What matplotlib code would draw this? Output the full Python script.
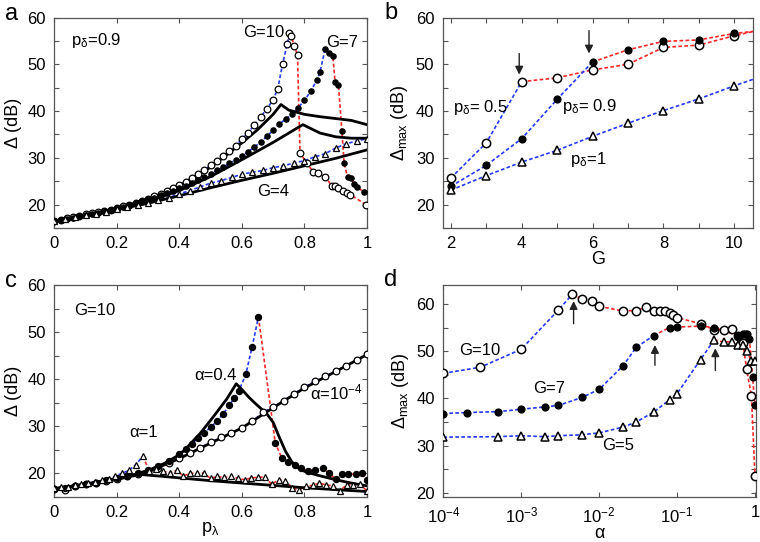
import numpy as np
import matplotlib
matplotlib.use('Agg')
import matplotlib.pyplot as plt
from matplotlib.ticker import MultipleLocator, FuncFormatter, NullLocator, FixedLocator

plt.rcParams['font.family'] = ['Liberation Sans', 'DejaVu Sans']
plt.rcParams['mathtext.fontset'] = 'custom'
plt.rcParams['mathtext.rm'] = 'Liberation Sans'
plt.rcParams['mathtext.it'] = 'Liberation Sans:italic'
plt.rcParams['mathtext.bf'] = 'Liberation Sans:bold'

# ---------------- Panel a data ----------------
a_g10_x = [0, .02, .04, .06, .08, .10, .12, .14, .16, .18, .20, .22, .24, .26, .28, .30, .32, .34, .36, .38,
           .40, .42, .44, .46, .48, .50, .52, .54, .56, .58, .60, .62, .64, .66, .68, .70, .715, .73, .745, .752,
           .758, .767, .778, .786, .808, .829, .845, .867, .888, .899, .909, .923, .936, .947, .997]
a_g10_y = [16.4, 16.8, 17.2, 17.3, 17.6, 18.0, 18.2, 18.4, 18.6, 18.9, 19.3, 19.7, 20.0, 20.4, 20.8, 21.3, 21.8, 22.3, 22.9, 23.5,
           24.2, 24.9, 25.6, 26.5, 27.4, 28.4, 29.4, 30.4, 31.5, 32.6, 34.0, 35.4, 37.0, 38.7, 40.5, 42.4, 44.8, 50.0, 54.3, 56.6,
           56.0, 54.0, 52.0, 31.1, 28.8, 27.0, 26.7, 25.9, 24.0, 24.0, 23.6, 22.9, 22.5, 22.1, 20.0]
a_g10_split = 0.752

a_g7_x = [0, .02, .04, .06, .08, .10, .12, .14, .16, .18, .20, .22, .24, .26, .28, .30, .32, .34, .36, .38,
          .40, .42, .44, .46, .48, .50, .52, .54, .56, .58, .60, .62, .64, .66, .68, .70, .72, .74, .76, .78,
          .80, .82, .84, .85, .866, .88, .891, .898, .909, .92, .927, .938, .948, .959, .968, .99]
a_g7_y = [16.5, 16.7, 17.0, 17.2, 17.5, 17.8, 18.1, 18.3, 18.6, 18.9, 19.2, 19.5, 19.9, 20.3, 20.7, 21.1, 21.5, 22.0, 22.5, 23.0,
          23.5, 24.0, 24.6, 25.2, 25.9, 26.6, 27.3, 28.0, 28.8, 29.6, 30.4, 31.3, 32.3, 33.4, 34.6, 35.9, 37.2, 38.3, 39.3, 40.7,
          42.3, 44.2, 46.6, 48.4, 53.2, 52.4, 51.8, 46.3, 45.5, 35.7, 28.9, 25.9, 25.6, 24.5, 23.8, 22.7]
a_g7_split = 0.866

a_g4_x = [0, .033, .067, .1, .133, .167, .2, .233, .267, .3, .333, .367, .4, .433, .467, .5, .533, .567, .6, .633,
          .667, .7, .733, .767, .8, .833, .867, .9, .933, .967, 1.0]
a_g4_y = [16.5, 16.9, 17.3, 17.7, 18.1, 18.5, 19.0, 19.4, 19.9, 20.4, 20.9, 21.5, 22.3, 23.0, 23.8, 24.6, 25.1, 25.8, 26.5, 26.9,
          27.3, 27.9, 28.3, 28.9, 29.4, 30.2, 30.9, 32.1, 33.0, 33.6, 34.1]

a_th10_x = [0, .1, .2, .3, .4, .5, .6, .65, .7, .725, .75, .8, .85, .9, .95, 1.0]
a_th10_y = [16.5, 17.8, 19.2, 21.1, 24.0, 28.0, 33.2, 36.0, 39.3, 41.4, 40.2, 39.3, 38.8, 38.4, 38.0, 37.1]
a_th7_x = [0, .1, .2, .3, .4, .5, .6, .7, .75, .795, .85, .9, .95, 1.0]
a_th7_y = [16.5, 17.7, 19.0, 20.7, 23.0, 26.0, 29.6, 33.3, 35.3, 37.1, 35.3, 34.5, 34.2, 34.2]
a_th4_x = [0, .1, .2, .3, .4, .5, .6, .7, .8, .9, 1.0]
a_th4_y = [16.5, 17.6, 18.9, 20.3, 21.9, 23.6, 25.2, 26.7, 28.3, 29.9, 31.7]

# ---------------- Panel b data ----------------
b_G = [2, 3, 4, 5, 6, 7, 8, 9, 10, 11]
b_p05 = [25.7, 33.2, 46.3, 47.1, 48.8, 50.0, 53.6, 54.1, 56.1, 57.8]
b_p09 = [23.9, 28.4, 34.1, 42.5, 50.5, 53.1, 54.9, 55.2, 56.6, 57.4]
b_p1 = [23.1, 26.2, 29.1, 31.6, 34.6, 37.4, 40.1, 42.6, 45.4, 48.0]
b_p05_split = 4
b_p09_split = 6

# ---------------- Panel c data ----------------
c_a4_x = [i / 30 for i in range(31)]
c_a4_y = [16.7, 16.5, 17.3, 17.6, 17.9, 18.3, 18.8, 19.3, 19.8, 20.4, 21.2, 22.2, 23.3, 24.3, 25.4, 26.6,
          27.6, 28.5, 29.6, 31.0, 32.9, 34.1, 35.4, 36.9, 38.3, 39.5, 40.6, 41.7, 42.8, 44.0, 45.3]

c_a04_x = [0, .033, .067, .1, .133, .167, .2, .233, .267, .3, .333, .367, .4, .42, .44, .46, .48, .50, .52, .54,
           .56, .575, .59, .613, .633, .653, .707, .728, .749, .77, .79, .81, .834, .858, .88, .9, .92, .94, .965, .985, 1.0]
c_a04_y = [16.7, 16.9, 17.3, 17.7, 18.0, 18.5, 19.0, 19.5, 20.0, 20.6, 21.5, 22.5, 24.1, 25.2, 26.2, 27.5, 28.6, 29.8, 31.0, 32.6,
           34.4, 35.9, 37.4, 41.1, 46.9, 53.2, 26.4, 23.2, 22.4, 21.8, 21.0, 20.5, 20.7, 21.0, 20.0, 18.7, 19.8, 19.8, 19.8, 20.1, 18.6]

c_a1_x = [i / 46 for i in range(47)]
c_a1_y = [16.8, 17.0, 17.1, 17.4, 17.6, 17.9, 18.1, 18.5, 18.8, 19.4, 20.0, 20.6, 21.8, 23.6, 20.5, 20.8, 20.4, 20.1,
          20.6, 19.4, 20.0, 20.0, 20.0, 18.9, 19.3, 19.1, 19.3, 18.9, 18.6, 19.0, 19.1, 19.2, 17.6, 18.6, 18.4,
          16.9, 16.4, 17.2, 17.4, 17.9, 17.5, 17.3, 16.2, 17.5, 17.5, 17.6, 16.2]

c_th4_x = [0, .1, .2, .3, .4, .5, .6, .7, .8, .9, 1.0]
c_th4_y = [16.7, 17.6, 18.7, 20.3, 23.1, 26.4, 29.6, 33.9, 38.1, 41.6, 45.2]
c_th04_x = [0, .1, .2, .25, .3, .35, .4, .418, .466, .509, .552, .582, .6, .62, .64, .66, .68, .70, .72, .74, .76, .78, .80, .84, .9, .95, 1.0]
c_th04_y = [16.7, 17.7, 18.9, 19.6, 20.6, 22.0, 23.9, 25.0, 28.4, 32.0, 35.8, 39.0, 37.8, 36.3, 35.0, 33.8, 32.6, 30.8, 27.6, 24.6,
            22.4, 21.1, 20.4, 19.6, 18.6, 17.9, 17.3]
c_th1_x = [0, .05, .1, .15, .2, .25, .28, .35, .4, .5, .6, .7, .8, .9, 1.0]
c_th1_y = [16.7, 17.0, 17.5, 18.0, 18.7, 19.4, 19.7, 19.3, 19.0, 18.4, 17.9, 17.4, 16.9, 16.5, 16.1]

# ---------------- Panel d data ----------------
d_g10_a = [1e-4, 3e-4, 1e-3, 3e-3, 4.5e-3, 6e-3, 8e-3, 0.01, 0.02, 0.03, 0.04, 0.05, 0.06, 0.07, 0.08, 0.09, 0.1,
           0.2, 0.3, 0.4, 0.5, 0.6, 0.7, 0.78, 0.9, 1.0]
d_g10_y = [45.3, 46.6, 50.4, 58.7, 62.0, 61.1, 60.6, 59.5, 58.5, 58.6, 59.3, 58.6, 58.6, 58.5, 58.0, 57.6, 57.1,
           55.8, 54.5, 54.5, 54.7, 53.1, 51.8, 46.2, 40.6, 23.6]
d_g10_split = 4.5e-3
d_g7_a = [1e-4, 2e-4, 5e-4, 1e-3, 2e-3, 3e-3, 6e-3, 0.01, 0.02, 0.03, 0.05, 0.08, 0.1, 0.2, 0.3, 0.6, 0.7, 0.75, 0.8, 0.85, 0.93, 1.0]
d_g7_y = [36.8, 37.0, 37.2, 37.7, 38.2, 38.5, 40.2, 41.9, 46.8, 50.8, 53.3, 55.0, 55.1, 55.3, 55.0, 53.3, 53.6, 53.7, 53.6, 52.6, 44.6, 38.5]
d_g7_split = 0.05
d_g5_a = [1e-4, 5e-4, 1e-3, 2e-3, 3e-3, 6e-3, 0.01, 0.02, 0.03, 0.05, 0.08, 0.1, 0.2, 0.3, 0.4, 0.5, 0.6, 0.7, 0.78, 0.9, 1.0]
d_g5_y = [31.8, 31.9, 32.1, 31.9, 32.1, 32.3, 32.7, 33.9, 35.0, 37.1, 39.7, 41.0, 48.2, 52.4, 51.9, 52.0, 51.2, 51.2, 50.0, 48.0, 47.9]
d_g5_split = 0.3

BLUE = '#2338ff'
RED = '#ff2626'
DASH = (0, (2.2, 1.4))
SPINE = '#555555'
TICKFS = 12
LABFS = 13
TXTFS = 12

fig = plt.figure(figsize=(7.6, 5.42), dpi=100)
axa = fig.add_axes([0.0714, 0.5793, 0.4114, 0.3884])
axb = fig.add_axes([0.5825, 0.5793, 0.4083, 0.3884])
axc = fig.add_axes([0.0714, 0.0836, 0.4114, 0.3906])
axd = fig.add_axes([0.5833, 0.0836, 0.4114, 0.3906])


def series(ax, x, y, split, marker, face, ms, mew=0.9):
    x = np.asarray(x, float)
    y = np.asarray(y, float)
    if split is None:
        ax.plot(x, y, color=BLUE, ls=DASH, lw=1.2, zorder=2)
    else:
        k = int(np.argmin(np.abs(x - split)))
        ax.plot(x[:k + 1], y[:k + 1], color=BLUE, ls=DASH, lw=1.2, zorder=2)
        ax.plot(x[k:], y[k:], color=RED, ls=DASH, lw=1.2, zorder=2)
    ax.plot(x, y, ls='none', marker=marker, mfc=face, mec='black', ms=ms, mew=mew, zorder=4)


def style(ax):
    for s in ax.spines.values():
        s.set_color(SPINE)
        s.set_linewidth(0.9)
    ax.tick_params(which='both', direction='in', top=True, right=True, color=SPINE,
                   length=3.5, width=0.8, labelsize=TICKFS, pad=6)


fmt01 = FuncFormatter(lambda v, p: '0' if abs(v) < 1e-9 else ('1' if abs(v - 1) < 1e-9 else '%.1f' % v))

# Panel a
series(axa, a_g10_x, a_g10_y, a_g10_split, 'o', 'white', 4.8)
series(axa, a_g7_x, a_g7_y, a_g7_split, 'o', 'black', 3.8)
series(axa, a_g4_x, a_g4_y, None, '^', 'white', 4.6)
for xx, yy in [(a_th10_x, a_th10_y), (a_th7_x, a_th7_y), (a_th4_x, a_th4_y)]:
    axa.plot(xx, yy, color='black', lw=2.0, zorder=3)
axa.set_xlim(0, 1)
axa.set_ylim(15, 60)
axa.xaxis.set_major_locator(MultipleLocator(0.2))
axa.xaxis.set_major_formatter(fmt01)
axa.yaxis.set_major_locator(MultipleLocator(10))
axa.yaxis.set_minor_locator(MultipleLocator(5))
axa.set_ylabel('Δ (dB)', fontsize=LABFS, labelpad=4)
axa.text(0.055, 55.0, 'p$_{\\mathrm{δ}}$=0.9', fontsize=TXTFS, va='center')
axa.text(0.605, 56.9, 'G=10', fontsize=TXTFS, va='center')
axa.text(0.87, 54.6, 'G=7', fontsize=TXTFS, va='center')
axa.text(0.648, 22.9, 'G=4', fontsize=TXTFS, va='center')
style(axa)

# Panel b
series(axb, b_G, b_p05, b_p05_split, 'o', 'white', 6.0, 1.1)
series(axb, b_G, b_p09, b_p09_split, 'o', 'black', 5.0)
series(axb, b_G, b_p1, None, '^', 'white', 5.5, 1.1)
axb.set_xlim(1.77, 10.53)
axb.set_ylim(15, 60)
axb.xaxis.set_major_locator(MultipleLocator(2))
axb.xaxis.set_minor_locator(MultipleLocator(1))
axb.yaxis.set_major_locator(MultipleLocator(10))
axb.yaxis.set_minor_locator(MultipleLocator(5))
axb.set_xlabel('G', fontsize=LABFS, labelpad=0)
axb.set_ylabel('Δ$_{\\mathrm{max}}$ (dB)', fontsize=LABFS, labelpad=4)
axb.text(2.07, 40.7, 'p$_{\\mathrm{δ}}$= 0.5', fontsize=TXTFS, va='center')
axb.text(5.15, 41.0, 'p$_{\\mathrm{δ}}$= 0.9', fontsize=TXTFS, va='center')
axb.text(5.36, 29.6, 'p$_{\\mathrm{δ}}$=1', fontsize=TXTFS, va='center')
for xa, y0, y1 in [(3.93, 52.3, 47.8), (5.9, 57.2, 52.3)]:
    axb.annotate('', xy=(xa, y1), xytext=(xa, y0),
                 arrowprops=dict(arrowstyle='-|>', color='#222222', lw=1.0, mutation_scale=12,
                                 shrinkA=0, shrinkB=0), zorder=5)
style(axb)

# Panel c
series(axc, c_a4_x, c_a4_y, None, 'o', 'white', 4.8)
series(axc, c_a04_x, c_a04_y, c_a04_x[int(np.argmax(c_a04_y))], 'o', 'black', 4.4)
series(axc, c_a1_x, c_a1_y, c_a1_x[int(np.argmax(c_a1_y))], '^', 'white', 4.6)
for xx, yy in [(c_th4_x, c_th4_y), (c_th04_x, c_th04_y), (c_th1_x, c_th1_y)]:
    axc.plot(xx, yy, color='black', lw=2.0, zorder=3)
axc.set_xlim(0, 1)
axc.set_ylim(15, 60)
axc.xaxis.set_major_locator(MultipleLocator(0.2))
axc.xaxis.set_major_formatter(fmt01)
axc.yaxis.set_major_locator(MultipleLocator(10))
axc.yaxis.set_minor_locator(MultipleLocator(5))
axc.set_ylabel('Δ (dB)', fontsize=LABFS, labelpad=4)
axc.set_xlabel('p$_{\\mathrm{λ}}$', fontsize=LABFS, labelpad=0)
axc.text(0.063, 54.5, 'G=10', fontsize=TXTFS, va='center')
axc.text(0.448, 40.8, 'α=0.4', fontsize=TXTFS, va='center')
axc.text(0.818, 37.2, 'α=10$^{\\mathrm{-4}}$', fontsize=TXTFS, va='center')
axc.text(0.24, 28.7, 'α=1', fontsize=TXTFS, va='center')
style(axc)

# Panel d
axd.set_xscale('log')
series(axd, d_g10_a, d_g10_y, d_g10_split, 'o', 'white', 6.0, 1.1)
series(axd, d_g7_a, d_g7_y, d_g7_split, 'o', 'black', 5.0)
series(axd, d_g5_a, d_g5_y, d_g5_split, '^', 'white', 5.5, 1.1)
axd.set_xlim(1e-4, 1.03)
axd.set_ylim(19.2, 64)
axd.xaxis.set_major_locator(FixedLocator([1e-4, 1e-3, 1e-2, 1e-1, 1]))
axd.xaxis.set_minor_locator(NullLocator())
axd.xaxis.set_major_formatter(FuncFormatter(
    lambda v, p: '1' if abs(v - 1) < 1e-9 else '$\\mathregular{10^{%d}}$' % int(round(np.log10(v)))))
axd.yaxis.set_major_locator(MultipleLocator(10))
axd.yaxis.set_minor_locator(MultipleLocator(5))
axd.set_xlabel('α', fontsize=LABFS, labelpad=0)
axd.set_ylabel('Δ$_{\\mathrm{max}}$ (dB)', fontsize=LABFS, labelpad=4)
axd.text(1.6e-4, 50.1, 'G=10', fontsize=TXTFS, va='center')
axd.text(1.43e-3, 42.0, 'G=7', fontsize=TXTFS, va='center')
axd.text(0.0108, 30.1, 'G=5', fontsize=TXTFS, va='center')
for xa, y0, y1 in [(0.0047, 55.8, 60.6), (0.052, 47.0, 51.3), (0.31, 45.9, 50.6)]:
    axd.annotate('', xy=(xa, y1), xytext=(xa, y0),
                 arrowprops=dict(arrowstyle='-|>', color='#222222', lw=1.0, mutation_scale=12,
                                 shrinkA=0, shrinkB=0), zorder=5)
style(axd)

# panel letters
fig.text(5 / 760, 1 - 14 / 542, 'a', fontsize=17, va='center', ha='left')
fig.text(384 / 760, 1 - 13 / 542, 'b', fontsize=17, va='center', ha='left')
fig.text(5 / 760, 1 - 281 / 542, 'c', fontsize=17, va='center', ha='left')
fig.text(384 / 760, 1 - 280 / 542, 'd', fontsize=17, va='center', ha='left')

fig.savefig('out.png', dpi=100)
